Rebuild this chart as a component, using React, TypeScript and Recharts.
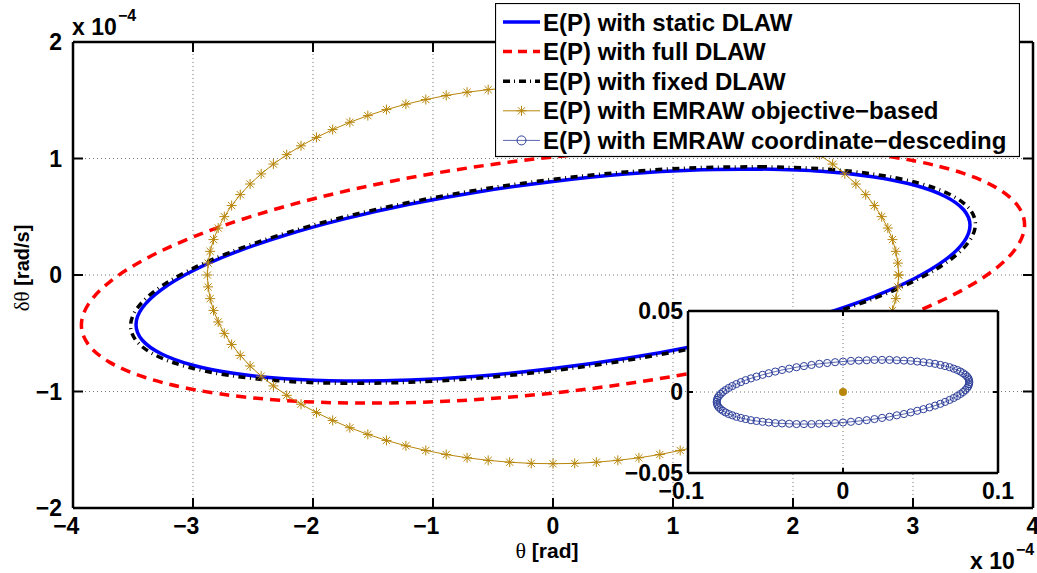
import React from 'react';
import { ComposedChart, Line, Scatter, XAxis, YAxis, CartesianGrid, Legend } from 'recharts';

// axis ticks (theta in 1e-4 rad, dtheta in 1e-4 rad/s)
const xTicks = [-4, -3, -2, -1, 0, 1, 2, 3, 4];
const yTicks = [-2, -1, 0, 1, 2];
const insetXTicks = [-0.1, 0, 0.1];
const insetYTicks = [-0.05, 0, 0.05];

const seriesNames = [
  'E(P) with static DLAW',
  'E(P) with full DLAW',
  'E(P) with fixed DLAW',
  'E(P) with EMRAW objective\u2212based',
  'E(P) with EMRAW coordinate\u2212desceding',
];

// E(P) with static DLAW
const staticX = [1.738, 1.188, 0.603, 0, -0.603, -1.188, -1.738, -2.234, -2.662, -3.009, -3.265, -3.422, -3.475, -3.422, -3.265, -3.009, -2.662, -2.234, -1.738, -1.188, -0.603, 0, 0.603, 1.188, 1.738, 2.234, 2.662, 3.009, 3.265, 3.422, 3.475, 3.422, 3.265, 3.009, 2.662, 2.234, 1.738];
const staticY = [0.909, 0.901, 0.866, 0.803, 0.717, 0.609, 0.482, 0.341, 0.189, 0.032, -0.127, -0.281, -0.427, -0.560, -0.676, -0.772, -0.844, -0.890, -0.909, -0.901, -0.866, -0.803, -0.717, -0.609, -0.482, -0.341, -0.189, -0.032, 0.127, 0.281, 0.427, 0.560, 0.676, 0.772, 0.844, 0.890, 0.909];

// E(P) with full DLAW
const fullX = [1.965, 1.344, 0.682, 0, -0.682, -1.344, -1.965, -2.526, -3.010, -3.403, -3.693, -3.870, -3.930, -3.870, -3.693, -3.403, -3.010, -2.526, -1.965, -1.344, -0.682, 0, 0.682, 1.344, 1.965, 2.526, 3.010, 3.403, 3.693, 3.870, 3.930, 3.870, 3.693, 3.403, 3.010, 2.526, 1.965];
const fullY = [1.092, 1.098, 1.072, 1.013, 0.923, 0.805, 0.662, 0.499, 0.322, 0.134, -0.058, -0.248, -0.430, -0.599, -0.750, -0.878, -0.980, -1.052, -1.092, -1.098, -1.072, -1.013, -0.923, -0.805, -0.662, -0.499, -0.322, -0.134, 0.058, 0.248, 0.430, 0.599, 0.750, 0.878, 0.980, 1.052, 1.092];

// E(P) with fixed DLAW
const fixedX = [1.760, 1.204, 0.611, 0, -0.611, -1.204, -1.760, -2.263, -2.696, -3.048, -3.308, -3.466, -3.520, -3.466, -3.308, -3.048, -2.696, -2.263, -1.760, -1.204, -0.611, 0, 0.611, 1.204, 1.760, 2.263, 2.696, 3.048, 3.308, 3.466, 3.520, 3.466, 3.308, 3.048, 2.696, 2.263, 1.760];
const fixedY = [0.929, 0.921, 0.885, 0.821, 0.733, 0.622, 0.493, 0.348, 0.193, 0.032, -0.129, -0.287, -0.437, -0.573, -0.691, -0.789, -0.862, -0.910, -0.929, -0.921, -0.885, -0.821, -0.733, -0.622, -0.493, -0.348, -0.193, -0.032, 0.129, 0.287, 0.437, 0.573, 0.691, 0.789, 0.862, 0.910, 0.929];

// E(P) with EMRAW objective-based
const objX = [
  2.880, 2.874, 2.857, 2.829, 2.790, 2.739, 2.678, 2.606, 2.524, 2.432, 2.330, 2.219, 2.100, 1.971, 1.836, 1.693, 1.543, 1.388, 1.226, 1.060, 0.890, 0.716, 0.540, 0.361, 0.181, 0,
  -0.181, -0.361, -0.540, -0.716, -0.890, -1.060, -1.226, -1.388, -1.543, -1.693, -1.836, -1.971, -2.100, -2.219, -2.330, -2.432, -2.524, -2.606, -2.678, -2.739, -2.790, -2.829, -2.857, -2.874, -2.880,
  -2.874, -2.857, -2.829, -2.790, -2.739, -2.678, -2.606, -2.524, -2.432, -2.330, -2.219, -2.100, -1.971, -1.836, -1.693, -1.543, -1.388, -1.226, -1.060, -0.890, -0.716, -0.540, -0.361, -0.181, 0,
  0.181, 0.361, 0.540, 0.716, 0.890, 1.060, 1.226, 1.388, 1.543, 1.693, 1.836, 1.971, 2.100, 2.219, 2.330, 2.432, 2.524, 2.606, 2.678, 2.739, 2.790, 2.829, 2.857, 2.874, 2.880,
];
const objY = [
  0, 0.102, 0.203, 0.304, 0.403, 0.501, 0.596, 0.690, 0.781, 0.868, 0.952, 1.033, 1.109, 1.181, 1.248, 1.311, 1.368, 1.420, 1.466, 1.506, 1.541, 1.569, 1.591, 1.607, 1.617, 1.620,
  1.617, 1.607, 1.591, 1.569, 1.541, 1.506, 1.466, 1.420, 1.368, 1.311, 1.248, 1.181, 1.109, 1.033, 0.952, 0.868, 0.781, 0.690, 0.596, 0.501, 0.403, 0.304, 0.203, 0.102, 0,
  -0.102, -0.203, -0.304, -0.403, -0.501, -0.596, -0.690, -0.781, -0.868, -0.952, -1.033, -1.109, -1.181, -1.248, -1.311, -1.368, -1.420, -1.466, -1.506, -1.541, -1.569, -1.591, -1.607, -1.617, -1.620,
  -1.617, -1.607, -1.591, -1.569, -1.541, -1.506, -1.466, -1.420, -1.368, -1.311, -1.248, -1.181, -1.109, -1.033, -0.952, -0.868, -0.781, -0.690, -0.596, -0.501, -0.403, -0.304, -0.203, -0.102, 0,
];

// inset: E(P) with EMRAW coordinate-desceding
const coordX = [
  0.0815, 0.0813, 0.0809, 0.0801, 0.0789, 0.0775, 0.0758, 0.0737, 0.0714, 0.0688, 0.0659, 0.0628, 0.0594, 0.0558, 0.0519, 0.0479, 0.0437, 0.0393, 0.0347, 0.0300, 0.0252, 0.0203, 0.0153, 0.0102, 0.0051, 0,
  -0.0051, -0.0102, -0.0153, -0.0203, -0.0252, -0.0300, -0.0347, -0.0393, -0.0437, -0.0479, -0.0519, -0.0558, -0.0594, -0.0628, -0.0659, -0.0688, -0.0714, -0.0737, -0.0758, -0.0775, -0.0789, -0.0801, -0.0809, -0.0813, -0.0815,
  -0.0813, -0.0809, -0.0801, -0.0789, -0.0775, -0.0758, -0.0737, -0.0714, -0.0688, -0.0659, -0.0628, -0.0594, -0.0558, -0.0519, -0.0479, -0.0437, -0.0393, -0.0347, -0.0300, -0.0252, -0.0203, -0.0153, -0.0102, -0.0051, 0,
  0.0051, 0.0102, 0.0153, 0.0203, 0.0252, 0.0300, 0.0347, 0.0393, 0.0437, 0.0479, 0.0519, 0.0558, 0.0594, 0.0628, 0.0659, 0.0688, 0.0714, 0.0737, 0.0758, 0.0775, 0.0789, 0.0801, 0.0809, 0.0813,
];
const coordY = [
  0.0061, 0.0073, 0.0084, 0.0095, 0.0106, 0.0116, 0.0126, 0.0136, 0.0144, 0.0153, 0.0160, 0.0167, 0.0174, 0.0179, 0.0184, 0.0188, 0.0192, 0.0194, 0.0196, 0.0198, 0.0198,
  0.0198, 0.0196, 0.0194, 0.0192, 0.0188, 0.0184, 0.0179, 0.0174, 0.0167, 0.0160, 0.0153, 0.0144, 0.0136, 0.0126, 0.0116, 0.0106, 0.0095, 0.0084, 0.0073, 0.0061,
  0.0049, 0.0037, 0.0025, 0.0012, 0, -0.0012, -0.0025, -0.0037, -0.0049, -0.0061,
  -0.0073, -0.0084, -0.0095, -0.0106, -0.0116, -0.0126, -0.0136, -0.0144, -0.0153, -0.0160, -0.0167, -0.0174, -0.0179, -0.0184, -0.0188, -0.0192, -0.0194, -0.0196, -0.0198, -0.0198,
  -0.0198, -0.0196, -0.0194, -0.0192, -0.0188, -0.0184, -0.0179, -0.0174, -0.0167, -0.0160, -0.0153, -0.0144, -0.0136, -0.0126, -0.0116, -0.0106, -0.0095, -0.0084, -0.0073, -0.0061,
  -0.0049, -0.0037, -0.0025, -0.0012, 0, 0.0012, 0.0025, 0.0037, 0.0049,
];
const centerX = [0];
const centerY = [0];

const BLUE = '#0000FF';
const RED = '#FF0000';
const GOLD = '#B8860B';
const NAVY = '#2E3F9A';
const FONT = '"Liberation Sans", Arial, Helvetica, sans-serif';
const SERIF = '"Liberation Serif", "Times New Roman", serif';
const TICK_FS = 23;

const pts = (xs: number[], ys: number[]) => xs.map((x, i) => ({ x, y: ys[i] }));
const staticData = pts(staticX, staticY);
const fullData = pts(fullX, fullY);
const fixedData = pts(fixedX, fixedY);
const objData = pts(objX, objY);
const coordData = pts(coordX, coordY);
const centerData = pts(centerX, centerY);

const fmt = (v: number) => (v < 0 ? '\u2212' + String(-v) : String(v));
// width of the numeric part, so the digits (not the minus) sit centred on the tick
const digitsW = (s: string, fs: number) =>
  s.replace('\u2212', '').split('').reduce((w, c) => w + (c === '.' ? 0.278 : 0.556), 0) * fs;

const bottomTick = (len: number, fs: number, dy: number) => (p: any) => {
  const s = fmt(p.payload.value);
  return (
    <g>
      <line x1={p.x} y1={p.y} x2={p.x} y2={p.y - len} stroke="#000" strokeWidth={2} />
      <text x={p.x + digitsW(s, fs) / 2} y={p.y + dy} textAnchor="end" fontSize={fs} fontFamily={FONT} fontWeight={700} fill="#000">
        {s}
      </text>
    </g>
  );
};
const leftTick = (len: number, fs: number, dx: number) => (p: any) => {
  const s = fmt(p.payload.value);
  return (
    <g>
      <line x1={p.x} y1={p.y} x2={p.x + len} y2={p.y} stroke="#000" strokeWidth={2} />
      <text x={p.x - dx} y={p.y + fs * 0.36} textAnchor="end" fontSize={fs} fontFamily={FONT} fontWeight={700} fill="#000">
        {s}
      </text>
    </g>
  );
};
const topTick = (len: number) => (p: any) => (
  <line x1={p.x} y1={p.y} x2={p.x} y2={p.y + len} stroke="#000" strokeWidth={2} />
);
const rightTick = (len: number) => (p: any) => (
  <line x1={p.x} y1={p.y} x2={p.x - len} y2={p.y} stroke="#000" strokeWidth={2} />
);

const Star = (p: any) => {
  const { cx, cy } = p;
  if (cx == null || cy == null) return null;
  const r = 5;
  const d = r * 0.72;
  return (
    <g stroke={GOLD} strokeWidth={1}>
      <line x1={cx - r} y1={cy} x2={cx + r} y2={cy} />
      <line x1={cx} y1={cy - r} x2={cx} y2={cy + r} />
      <line x1={cx - d} y1={cy - d} x2={cx + d} y2={cy + d} />
      <line x1={cx - d} y1={cy + d} x2={cx + d} y2={cy - d} />
    </g>
  );
};

const ExpLabel = ({ x, y }: { x: number; y: number }) => (
  <g fontFamily={FONT} fontWeight={700} fill="#000">
    <text x={x} y={y} fontSize={23}>x 10</text>
    <text x={x + 46} y={y - 14} fontSize={16}>{'\u22124'}</text>
  </g>
);

const xLabel = (p: any) => {
  const vb = p.viewBox || { x: 73, width: 960 };
  return (
    <g>
      <text x={vb.x + vb.width / 2 - 6} y={558} textAnchor="middle" fontSize={21} fontFamily={FONT} fontWeight={700} fill="#000">
        <tspan fontFamily={SERIF} fontWeight={400} fontSize={22}>{'\u03b8'}</tspan> [rad]
      </text>
      <ExpLabel x={970} y={569} />
    </g>
  );
};
const yLabel = () => (
  <g>
    <text x={29} y={268} transform="rotate(-90, 29, 268)" textAnchor="middle" fontSize={20} fontFamily={FONT} fontWeight={700} fill="#000">
      <tspan fontFamily={SERIF} fontWeight={400} fontSize={21}>{'\u03b4\u03b8'}</tspan> [rad/s]
    </text>
    <ExpLabel x={72} y={35} />
  </g>
);

const legendStyles = [
  { stroke: BLUE, width: 3.5, dash: undefined as string | undefined, marker: '' },
  { stroke: RED, width: 3.5, dash: '9 6', marker: '' },
  { stroke: '#000', width: 3.5, dash: '7 4 1 4', marker: '' },
  { stroke: GOLD, width: 1, dash: undefined, marker: 'star' },
  { stroke: NAVY, width: 0.8, dash: undefined, marker: 'circle' },
];

const renderLegend = () => (
  <svg width={525} height={155} style={{ display: 'block' }}>
    <rect x={0.5} y={0.5} width={524} height={153} fill="#fff" stroke="#000" strokeWidth={1.2} />
    {seriesNames.map((name, i) => {
      const st = legendStyles[i];
      const cy = 19 + i * 29.6;
      return (
        <g key={name}>
          <line x1={8} y1={cy} x2={45} y2={cy} stroke={st.stroke} strokeWidth={st.width} strokeDasharray={st.dash} />
          {st.marker === 'star' && <Star cx={26.5} cy={cy} />}
          {st.marker === 'circle' && <circle cx={26.5} cy={cy} r={4.5} fill="none" stroke={NAVY} strokeWidth={1} />}
          <text x={48} y={cy + 8.5} fontSize={24} fontFamily={FONT} fontWeight={700} fill="#000">
            {name}
          </text>
        </g>
      );
    })}
  </svg>
);

const axisLine = { stroke: '#000', strokeWidth: 2.5 };

const MainChart: React.FC = () => (
  <ComposedChart width={1037} height={573} margin={{ top: 32, right: 0, bottom: 15, left: 13 }}>
    <CartesianGrid stroke="#777" strokeDasharray="1 3" strokeWidth={1} fill="#fff" />
    <XAxis dataKey="x" type="number" domain={[-4, 4]} ticks={xTicks} allowDataOverflow interval={0} height={50}
      tickSize={0} tickMargin={0} tickLine={false} axisLine={axisLine} tick={bottomTick(10, TICK_FS, 26)} label={xLabel} />
    <XAxis xAxisId="top" orientation="top" dataKey="x" type="number" domain={[-4, 4]} ticks={xTicks} allowDataOverflow interval={0}
      height={10} tickSize={0} tickMargin={0} tickLine={false} axisLine={axisLine} tick={topTick(10)} />
    <YAxis type="number" domain={[-2, 2]} ticks={yTicks} allowDataOverflow interval={0} width={60}
      tickSize={0} tickMargin={0} tickLine={false} axisLine={axisLine} tick={leftTick(10, TICK_FS, 11)} label={yLabel} />
    <YAxis yAxisId="right" orientation="right" type="number" domain={[-2, 2]} ticks={yTicks} allowDataOverflow interval={0} width={4}
      tickSize={0} tickMargin={0} tickLine={false} axisLine={axisLine} tick={rightTick(10)} />
    <Line data={staticData} dataKey="y" type="natural" stroke={BLUE} strokeWidth={3.5} dot={false} activeDot={false} isAnimationActive={false} />
    <Line data={fullData} dataKey="y" type="natural" stroke={RED} strokeWidth={3.5} strokeDasharray="10 7" dot={false} activeDot={false} isAnimationActive={false} />
    <Line data={fixedData} dataKey="y" type="natural" stroke="#000" strokeWidth={3.5} strokeDasharray="7 4.5 1 4.5" dot={false} activeDot={false} isAnimationActive={false} />
    <Line data={objData} dataKey="y" type="linear" stroke={GOLD} strokeWidth={1} dot={<Star />} activeDot={false} isAnimationActive={false} />
    <Legend layout="vertical" align="center" verticalAlign="middle" content={renderLegend}
      wrapperStyle={{ left: 495, top: 3, width: 525, height: 155, lineHeight: 0 }} />
  </ComposedChart>
);

const InsetChart: React.FC = () => (
  <ComposedChart width={417} height={220} margin={{ top: 20, right: 38, bottom: 7, left: 8 }}>
    <CartesianGrid stroke="#777" strokeDasharray="1 3" strokeWidth={1} fill="#fff" fillOpacity={1} />
    <XAxis dataKey="x" type="number" domain={[-0.1, 0.1]} ticks={insetXTicks} allowDataOverflow interval={0} height={30}
      tickSize={0} tickMargin={0} tickLine={false} axisLine={axisLine} tick={bottomTick(5, TICK_FS, 26)} />
    <XAxis xAxisId="top" orientation="top" dataKey="x" type="number" domain={[-0.1, 0.1]} ticks={insetXTicks} allowDataOverflow interval={0}
      height={1} tickSize={0} tickMargin={0} tickLine={false} axisLine={axisLine} tick={topTick(5)} />
    <YAxis type="number" domain={[-0.05, 0.05]} ticks={insetYTicks} allowDataOverflow interval={0} width={60}
      tickSize={0} tickMargin={0} tickLine={false} axisLine={axisLine} tick={leftTick(5, TICK_FS, 5)} />
    <YAxis yAxisId="right" orientation="right" type="number" domain={[-0.05, 0.05]} ticks={insetYTicks} allowDataOverflow interval={0} width={1}
      tickSize={0} tickMargin={0} tickLine={false} axisLine={axisLine} tick={rightTick(5)} />
    <Line data={coordData} dataKey="y" type="linear" stroke={NAVY} strokeWidth={0.8}
      dot={{ r: 3.6, fill: 'none', stroke: NAVY, strokeWidth: 1 }} activeDot={false} isAnimationActive={false} />
    <Scatter data={centerData} dataKey="y" fill={GOLD} isAnimationActive={false}
      shape={(p: any) => <circle cx={p.cx} cy={p.cy} r={4} fill={GOLD} />} />
  </ComposedChart>
);

export default function App() {
  return (
    <div style={{ position: 'fixed', left: 0, top: 0, width: 1037, height: 573, background: '#fff', overflow: 'hidden' }}>
      <div style={{ position: 'absolute', left: 0, top: 0 }}>
        <MainChart />
      </div>
      <div style={{ position: 'absolute', left: 620, top: 290 }}>
        <InsetChart />
      </div>
    </div>
  );
}
